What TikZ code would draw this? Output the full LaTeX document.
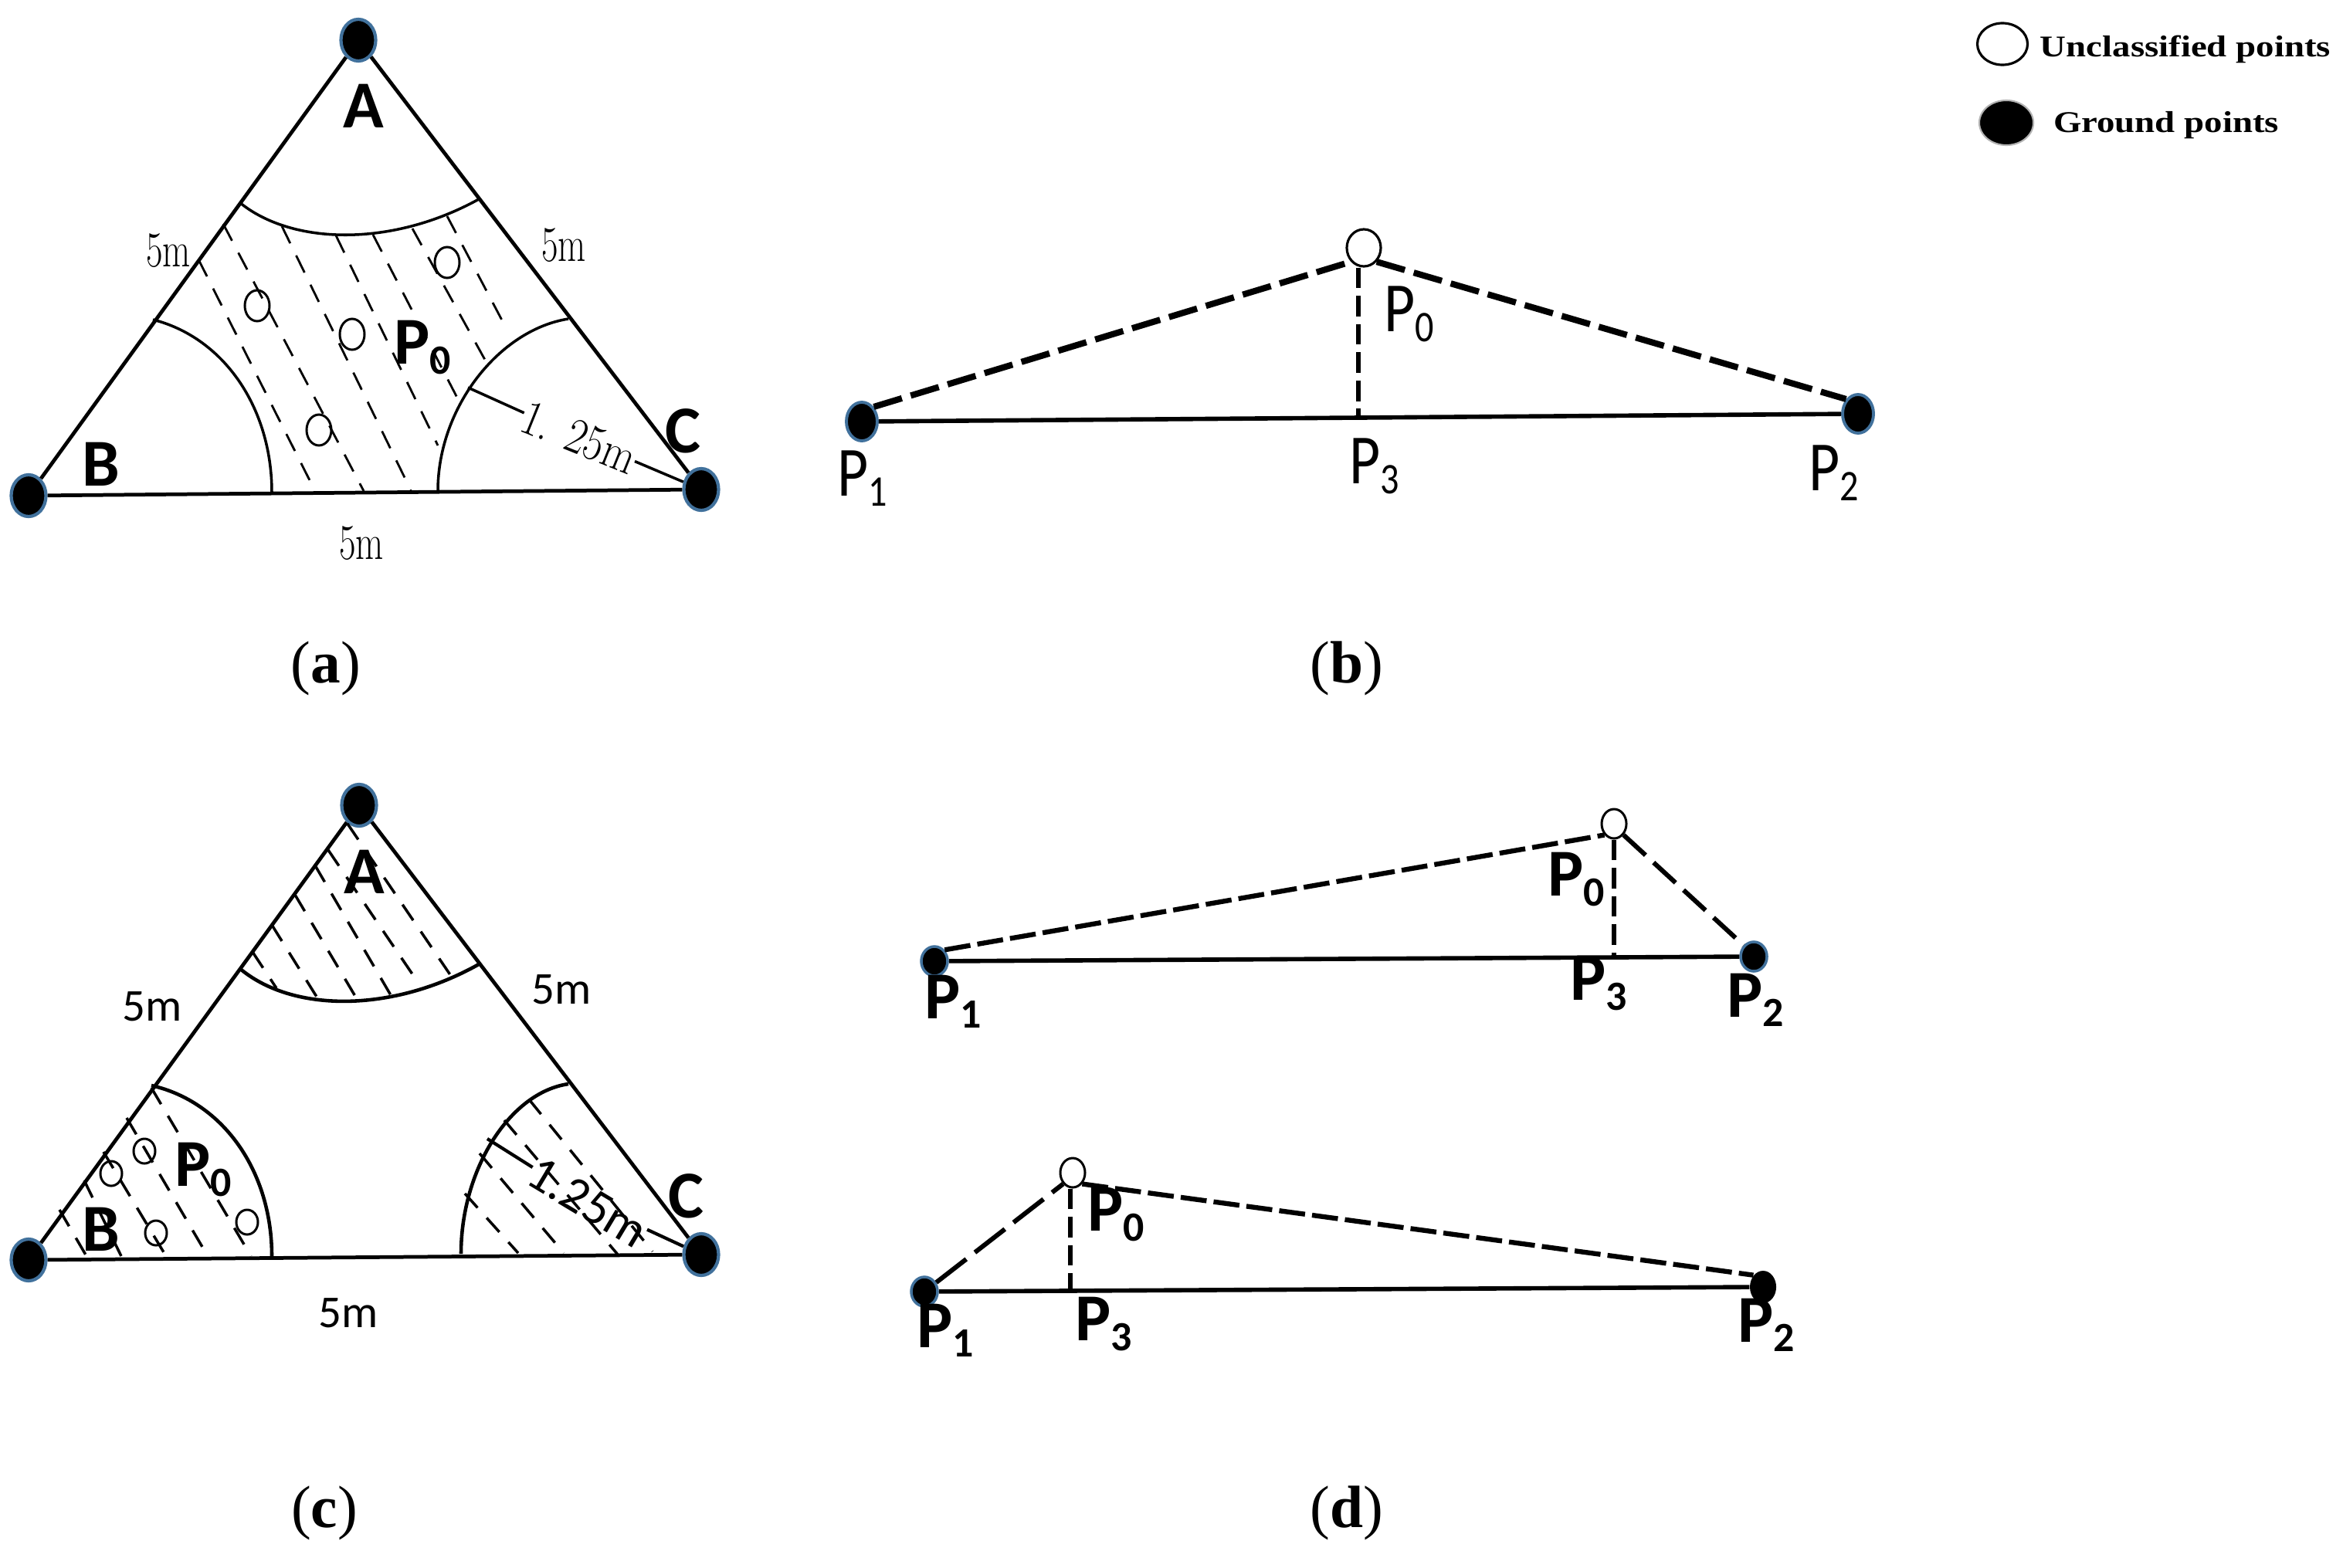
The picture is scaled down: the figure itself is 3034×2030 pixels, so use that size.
\documentclass[tikz,border=0pt]{standalone}
\usepackage{fontspec}
\usetikzlibrary{shapes}
\newfontfamily\calfont{Carlito}
\newfontfamily\timesfont{Liberation Serif}
\definecolor{pt_blue}{RGB}{65, 113, 156}
\newcommand{\subp}[1]{P\raisebox{-0.14em}{\scalebox{0.62}{#1}}}
\newcommand{\slimp}[1]{\scalebox{0.85}[1]{\subp{#1}}}
\newcommand{\slimm}[1]{\scalebox{0.72}[1]{#1}}
\tikzstyle{gp}=[ellipse,fill=black,draw=pt_blue,line width=1.2pt,inner sep=0pt,
  minimum width=0.45cm,minimum height=0.54cm]
\tikzstyle{gpm}=[ellipse,fill=black,draw=pt_blue,line width=1.1pt,inner sep=0pt,
  minimum width=0.40cm,minimum height=0.50cm]
\tikzstyle{gpn}=[ellipse,fill=black,inner sep=0pt,minimum width=0.34cm,minimum height=0.42cm]
\tikzstyle{gps}=[ellipse,fill=black,draw=pt_blue,line width=1pt,inner sep=0pt,
  minimum width=0.34cm,minimum height=0.38cm]
\tikzstyle{up}=[ellipse,fill=white,draw=black,line width=0.9pt,inner sep=0pt,
  minimum width=0.44cm,minimum height=0.48cm]
\tikzstyle{ups}=[ellipse,fill=none,draw=black,line width=0.85pt,inner sep=0pt,
  minimum width=0.32cm,minimum height=0.40cm]
\tikzstyle{upc}=[ellipse,fill=none,draw=black,line width=0.85pt,inner sep=0pt,
  minimum width=0.28cm,minimum height=0.32cm]
\tikzstyle{side}=[line width=1.35pt]
\tikzstyle{arcline}=[line width=1pt]
\tikzstyle{arcbold}=[line width=1.3pt]
\tikzstyle{hatch}=[line width=0.8pt,dash pattern=on 7pt off 5pt]
\tikzstyle{hatchc}=[line width=1pt,dash pattern=on 7pt off 5pt]
\tikzstyle{dashb}=[line width=2.3pt,dash pattern=on 10.8pt off 3.4pt]
\tikzstyle{dashd}=[line width=1.8pt,dash pattern=on 9.6pt off 2.6pt]
\tikzstyle{dashl}=[line width=1.7pt,dash pattern=on 11pt off 4pt]
\tikzstyle{dropb}=[line width=1.7pt,dash pattern=on 7.6pt off 2.8pt]
\tikzstyle{dropd}=[line width=1.5pt,dash pattern=on 7.6pt off 2.8pt]
\tikzstyle{base}=[line width=1.6pt]
\tikzstyle{boldlab}=[inner sep=0pt,font=\calfont\bfseries\fontsize{24.7}{28}\selectfont]
\tikzstyle{midlab}=[inner sep=0pt,font=\calfont\fontsize{16.8}{20}\selectfont]
\tikzstyle{serlab}=[inner sep=0pt,font=\fontsize{18.5}{22}\selectfont]
\tikzstyle{slimlab}=[inner sep=0pt,font=\calfont\fontsize{26}{30}\selectfont]
\tikzstyle{caplab}=[inner sep=0pt,font=\timesfont\fontsize{22}{26}\selectfont]
\tikzstyle{leglab}=[inner sep=0pt,font=\timesfont\bfseries\fontsize{11.1}{14}\selectfont]
\begin{document}
\begin{tikzpicture}[x=0.01cm,y=-0.01cm]
        \useasboundingbox (0,0) rectangle (3034,2030);
        \node [style=gp] (Aa) at (464,52) {};
        \node [style=gp] (Ba) at (37,642) {};
        \node [style=gp] (Ca) at (908,634) {};
        \draw [style=side] (Aa) to (Ba);
        \draw [style=side] (Aa) to (Ca);
        \draw [style=side] (Ba) to (Ca);
        \draw [style=arcline] (310,262) .. controls (378,318) and (508,320) .. (620,258);
        \draw [style=arcline] (198,414) .. controls (289,437) and (352,527) .. (352,638);
        \draw [style=arcline] (736,413) .. controls (647,427) and (567,527) .. (567,636);
        \draw [style=hatch] (257,336) to (408,636);
        \draw [style=hatch] (289,290) to (471,636);
        \draw [style=hatch] (365,293) to (532,635);
        \draw [style=hatch] (435,305) to (567,577);
        \draw [style=hatch] (483,304) to (593,517);
        \draw [style=hatch] (534,296) to (628,466);
        \draw [style=hatch] (579,280) to (657,428);
        \node [style=ups] (u1a) at (333,396) {};
        \node [style=ups] (u2a) at (456,433) {};
        \node [style=ups] (u3a) at (579,340) {};
        \node [style=ups] (u4a) at (413,557) {};
        \node [style=boldlab] (lAa) at (471,137) {A};
        \node [style=boldlab] (lBa) at (131,601) {B};
        \node [style=boldlab] (lCa) at (884,558) {C};
        \node [style=boldlab] (lPa) at (547,450) {\subp{0}};
        \node [style=serlab] (s1a) at (218,325) {\slimm{5m}};
        \node [style=serlab] (s2a) at (730,318) {\slimm{5m}};
        \node [style=serlab] (s3a) at (468,704) {\slimm{5m}};
        \coordinate (ra) at (606,502);
        \node [style=serlab,rotate=-22] (la) at (750,567) {\scalebox{0.85}[1]{1. 25m}};
        \draw [line width=1pt] (ra) to (la);
        \draw [line width=1pt] (la) to (Ca);
        \node [style=caplab] (capa) at (422,866) {(\textbf{a})};
        \node [style=gpm] (P1b) at (1116,546) {};
        \node [style=gpm] (P2b) at (2406,536) {};
        \node [style=up] (P0b) at (1766,321) {};
        \coordinate (P3b) at (1759,541);
        \draw [style=base] (P1b) to (P2b);
        \draw [style=dashb] (P1b.north east) to (P0b.south west);
        \draw [style=dashb] (P0b.south east) to (P2b.north west);
        \draw [style=dropb] (P3b |- P0b.south) to (P3b);
        \node [style=slimlab] (l1b) at (1117,620) {\slimp{1}};
        \node [style=slimlab] (l2b) at (2375,613) {\slimp{2}};
        \node [style=slimlab] (l3b) at (1780,604) {\slimp{3}};
        \node [style=slimlab] (l0b) at (1825,407) {\slimp{0}};
        \node [style=caplab] (capb) at (1744,866) {(\textbf{b})};
        \node [style=gp] (Ac) at (465,1043) {};
        \node [style=gp] (Bc) at (37,1632) {};
        \node [style=gp] (Cc) at (908,1625) {};
        \draw [style=side] (Ac) to (Bc);
        \draw [style=side] (Ac) to (Cc);
        \draw [style=side] (Bc) to (Cc);
        \draw [style=arcbold] (310,1254) .. controls (378,1312) and (508,1312) .. (620,1249);
        \draw [style=arcbold] (196,1406) .. controls (289,1427) and (352,1517) .. (352,1627);
        \draw [style=arcbold] (736,1404) .. controls (660,1415) and (597,1515) .. (597,1624);
        \draw [style=hatchc] (450,1067) to (586,1267);
        \draw [style=hatchc] (425,1101) to (543,1275);
        \draw [style=hatchc] (408,1121) to (506,1289);
        \draw [style=hatchc] (382,1159) to (461,1292);
        \draw [style=hatchc] (352,1198) to (410,1291);
        \draw [style=hatchc] (327,1233) to (358,1280);
        \draw [style=hatchc] (196,1409) to (325,1627);
        \draw [style=hatchc] (164,1448) to (269,1627);
        \draw [style=hatchc] (134,1492) to (215,1627);
        \draw [style=hatchc] (109,1529) to (157,1627);
        \draw [style=hatchc] (77,1567) to (112,1627);
        \draw [style=hatchc] (685,1424) to (845,1621);
        \draw [style=hatchc] (653,1451) to (800,1625);
        \draw [style=hatchc] (621,1494) to (730,1623);
        \draw [style=hatchc] (602,1546) to (671,1623);
        \node [style=upc] (u1c) at (187,1491) {};
        \node [style=upc] (u2c) at (144,1520) {};
        \node [style=upc] (u3c) at (202,1597) {};
        \node [style=upc] (u4c) at (320,1583) {};
        \node [style=boldlab] (lAc) at (472,1129) {A};
        \node [style=boldlab] (lBc) at (131,1592) {B};
        \node [style=boldlab] (lCc) at (888,1549) {C};
        \node [style=boldlab] (lPc) at (263,1515) {\subp{0}};
        \node [style=midlab] (s1c) at (197,1304) {5m};
        \node [style=midlab] (s2c) at (727,1282) {5m};
        \node [style=midlab] (s3c) at (451,1701) {5m};
        \coordinate (rc) at (631,1475);
        \node [style=midlab,font=\calfont\fontsize{18.5}{22}\selectfont,rotate=-31] (lc) at (761,1557) {1.25m};
        \draw [line width=1.2pt] (rc) to (lc);
        \draw [line width=1.2pt] (lc) to (Cc);
        \node [style=caplab] (capc) at (420,1960) {(\textbf{c})};
        \node [style=gps] (P1u) at (1210,1245) {};
        \node [style=gps] (P2u) at (2271,1239) {};
        \node [style=upc,minimum width=0.32cm,minimum height=0.38cm] (P0u) at (2090,1067) {};
        \coordinate (P3u) at (2090,1241);
        \draw [style=base] (P1u) to (P2u);
        \draw [style=dashd] (P1u.north east) to (P0u.south west);
        \draw [style=dashl] (P0u.south east) to (P2u.north west);
        \draw [style=dropd] (P0u) to (P3u);
        \node [style=boldlab] (l1u) at (1234,1297) {\subp{1}};
        \node [style=boldlab] (l2u) at (2273,1295) {\subp{2}};
        \node [style=boldlab] (l3u) at (2070,1274) {\subp{3}};
        \node [style=boldlab] (l0u) at (2041,1139) {\subp{0}};
        \node [style=gps] (P1l) at (1197,1673) {};
        \node [style=gpn] (P2l) at (2283,1667) {};
        \node [style=upc,minimum width=0.32cm,minimum height=0.38cm] (P0l) at (1389,1519) {};
        \coordinate (P3l) at (1386,1672);
        \draw [style=base] (P1l) to (P2l);
        \draw [style=dashl,dash pattern=on 14pt off 4pt] (P1l) to (P0l.south west);
        \draw [style=dashd] (P0l.south east) to (P2l.north west);
        \draw [style=dropd] (P3l |- P0l.south) to (P3l);
        \node [style=boldlab] (l1l) at (1224,1723) {\subp{1}};
        \node [style=boldlab] (l2l) at (2287,1716) {\subp{2}};
        \node [style=boldlab] (l3l) at (1429,1715) {\subp{3}};
        \node [style=boldlab] (l0l) at (1445,1573) {\subp{0}};
        \node [style=caplab] (capd) at (1744,1960) {(\textbf{d})};
        \node [style=up,minimum width=0.65cm,minimum height=0.54cm] (legu) at (2593,57) {};
        \node [style=leglab] (legut) at (2830,64) {\scalebox{1.2}[1]{Unclassified points}};
        \node [style=gpn,draw=gray!60,line width=0.6pt,minimum width=0.7cm,minimum height=0.58cm] (legg) at (2598,159) {};
        \node [style=leglab] (leggt) at (2805,162) {\scalebox{1.2}[1]{Ground points}};
    \end{tikzpicture}
\end{document}
